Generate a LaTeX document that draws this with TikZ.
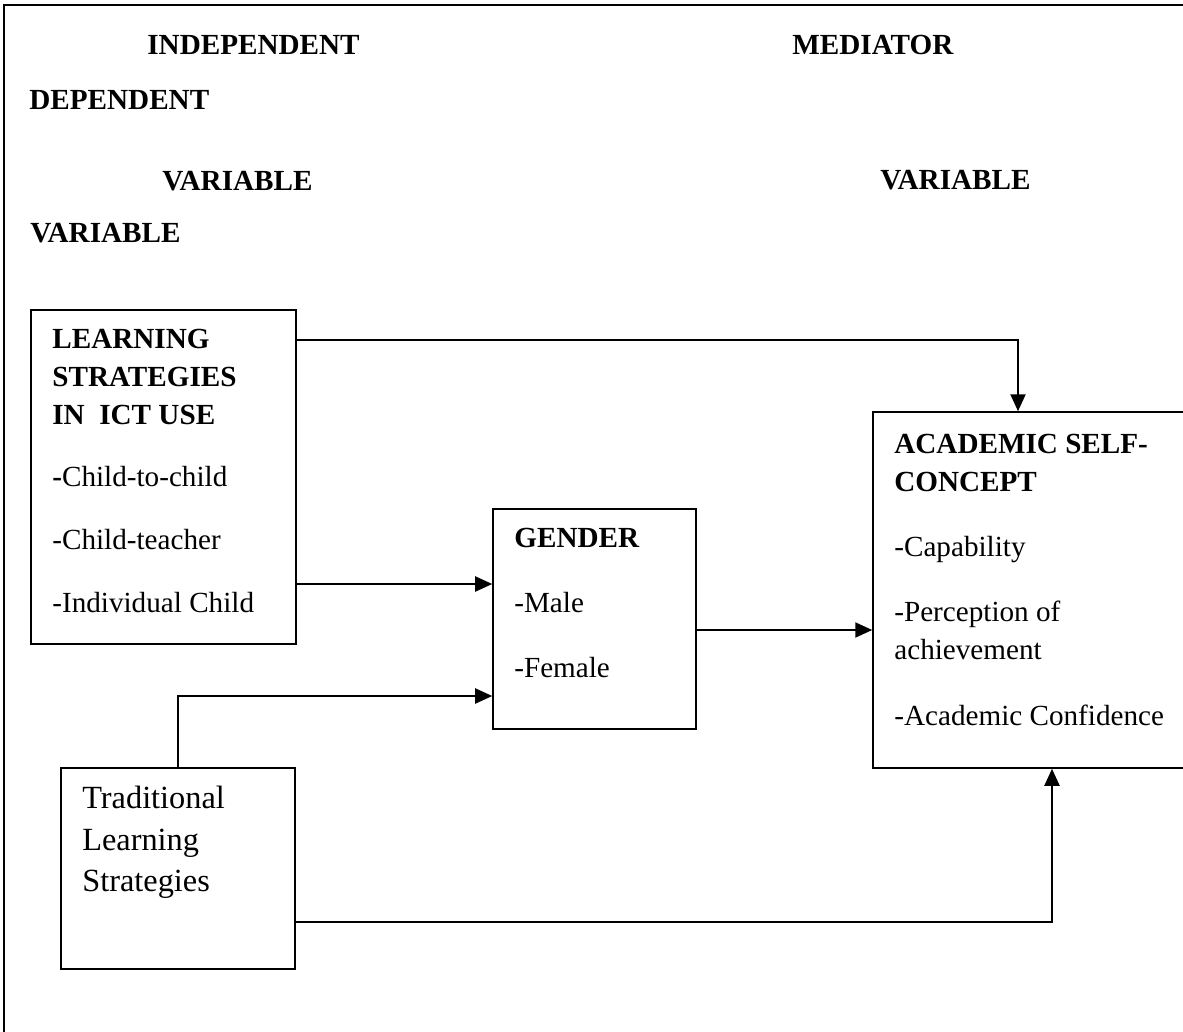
\documentclass[tikz,border=0pt]{standalone}
\usepackage{fontspec}
\setmainfont{Liberation Serif}
\usetikzlibrary{arrows.meta}

\begin{document}
\begin{tikzpicture}[x=0.02cm, y=-0.02cm,
	box/.style={draw, line width=0.9pt, inner sep=0pt},
	txt/.style={anchor=north west, inner sep=0pt, align=left, font=\fontsize{16.6}{21.5}\selectfont},
	head/.style={anchor=west, inner sep=0pt, font=\fontsize{16.6}{20}\selectfont\bfseries},
	arr/.style={line width=1.2pt, -{Triangle[length=0.34cm, width=0.3cm]}}]
	\useasboundingbox (0,0) rectangle (1183,1031);
	\draw[line width=0.8pt] (4,1040) |- (1190,5);

	% column headings
	\node[head] (indep) at (147,45) {INDEPENDENT};
	\node[head] (med) at (792,45) {MEDIATOR};
	\node[head] (dep) at (29,100) {DEPENDENT};
	\node[head] (var1) at (162,181) {VARIABLE};
	\node[head] (var2) at (880,180) {VARIABLE};
	\node[head] (var3) at (30,233) {VARIABLE};

	% boxes
	\node[box, minimum width=5.3cm, minimum height=6.68cm] (ict) at (163.5,477) {};
	\node[box, minimum width=4.06cm, minimum height=4.4cm] (gender) at (594.5,619) {};
	\node[box, minimum width=6.26cm, minimum height=7.12cm] (asc) at (1029.5,590) {};
	\node[box, minimum width=4.68cm, minimum height=4.02cm] (trad) at (178,868.5) {};

	\node[txt] (ict-t) at (52,329) {\textbf{LEARNING}\\\textbf{STRATEGIES}\\\textbf{IN\ \ ICT USE}\\[0.5cm]\textbf{-}Child-to-child\\[0.5cm]-Child-teacher\\[0.5cm]-Individual Child};
	\node[txt] (gender-t) at (514,528) {\textbf{GENDER}\\[0.54cm]-Male\\[0.54cm]-Female};
	\node[txt] (asc-t) at (894,434) {\textbf{ACADEMIC SELF-}\\\textbf{CONCEPT}\\[0.55cm]-Capability\\[0.55cm]-Perception of\\achievement\\[0.55cm]-Academic Confidence};
	\node[txt, font=\fontsize{18.4}{23.5}\selectfont] (trad-t) at (82,786) {Traditional\\Learning\\Strategies};

	% arrows
	\coordinate (c1) at (1018,340); \coordinate (c2) at (0,584); \coordinate (c3) at (0,696); \coordinate (c4) at (0,630); \coordinate (c5) at (1052,922);
	\draw[arr] (ict.east |- c1) -| (asc.north -| c1);
	\draw[arr] (ict.east |- c2) -- (gender.west |- c2);
	\draw[arr] (trad.north) |- (gender.west |- c3);
	\draw[arr] (gender.east |- c4) -- (asc.west |- c4);
	\draw[arr] (trad.east |- c5) -| (asc.south -| c5);
\end{tikzpicture}
\end{document}
